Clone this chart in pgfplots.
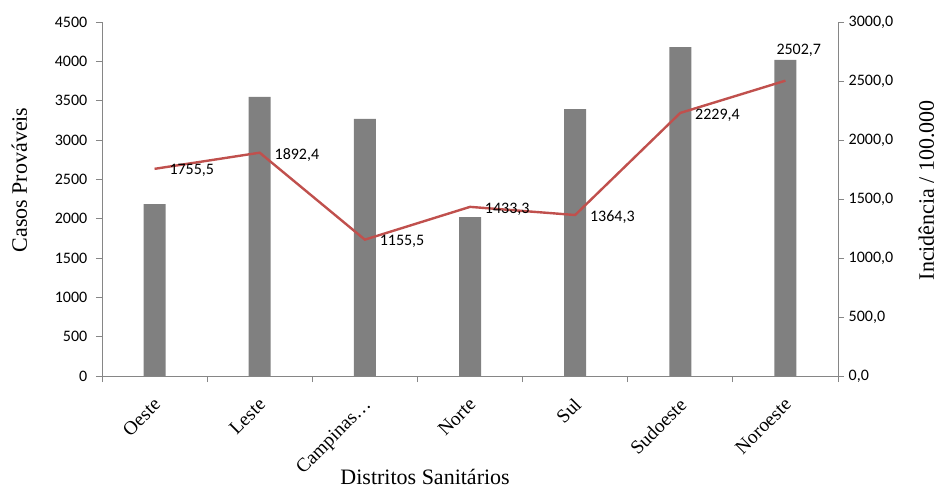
\documentclass[border=0pt]{standalone}
\usepackage{pgfplots}
\pgfplotsset{compat=1.18}
\usepackage{pgfplotstable}
\usepackage{fontspec}
\setmainfont{Liberation Serif}
\newfontfamily\calibri{Carlito}
\definecolor{bargray}{RGB}{128,128,128}
\definecolor{linered}{RGB}{192,80,77}
\definecolor{axgray}{RGB}{134,134,134}

% casos provaveis por distrito
\pgfplotstableread{
x casos
0 2186
1 3547
2 3267
3 2021
4 3394
5 4182
6 4017
}\casos

% incidencia / 100.000
\pgfplotstableread{
x inc lab
0 1755.5 1755,5
1 1892.4 1892,4
2 1155.5 1155,5
3 1433.3 1433,3
4 1364.3 1364,3
5 2229.4 2229,4
6 2502.7 2502,7
}\incid

\begin{document}
\begin{tikzpicture}
\pgfplotsset{
  every axis/.append style={
    scale only axis, width=552pt, height=265.5pt,
    xmin=-0.5, xmax=6.5,
    axis line style={axgray},
    tick style={axgray, line width=0.6pt},
    tick align=outside,
    major tick length=4.5pt,
    /pgf/number format/assume math mode=true,
    /pgf/number format/set thousands separator={},
    yticklabel style={font=\calibri\fontsize{12}{14}\selectfont},
    ylabel style={font=\fontsize{16.5}{19}\selectfont, anchor=center},
  },
  datalab/.style={draw=none, mark=none, point meta=explicit symbolic, nodes near coords,
    every node near coord/.append style={text=black, font=\calibri\fontsize{12}{14}\selectfont, inner sep=1pt}},
}
\begin{axis}[name=ax,
  axis x line*=bottom, axis y line*=left,
  ymin=0, ymax=4500, ytick={0,500,...,4500},
  yticklabel style={xshift=-3pt},
  xtick={0,...,6},
  xticklabels={Oeste,Leste,Campinas…,Norte,Sul,Sudoeste,Noroeste},
  major x tick style={draw=none},
  minor xtick={-0.5,0.5,...,6.5},
  minor tick length=4.5pt,
  xticklabel style={rotate=45, anchor=north east, font=\fontsize{14.5}{16}\selectfont, yshift=-3.2pt, xshift=-5.5pt},
  xlabel={Distritos Sanitários},
  xlabel style={font=\fontsize{16.5}{19}\selectfont, at={(axis description cs:0.439,0)}, anchor=base, yshift=-81.5pt},
  ylabel={Casos Prováveis},
  ylabel style={at={(axis description cs:-0.1123,0.554)}},
]
\addplot[ybar, bar width=16.5pt, fill=bargray, draw=none] table[x=x, y=casos] {\casos};
\end{axis}
\begin{axis}[
  axis x line=none, axis y line*=right,
  ymin=0, ymax=3000, ytick={0,500,...,3000},
  /pgf/number format/.cd, fixed, fixed zerofill, precision=1, use comma, set thousands separator={},
  /pgfplots/.cd,
  ylabel={Incidência / 100.000},
  ylabel style={at={(axis description cs:1.137,0.525)}, anchor=south},
]
\addplot[linered, line width=1.8pt, mark=none] table[x=x, y=inc] {\incid};
\addplot[datalab, restrict x to domain=0:5,
  every node near coord/.append style={anchor=west, xshift=10pt, yshift=-1.5pt}]
  table[x=x, y=inc, meta=lab] {\incid};
\addplot[datalab, restrict x to domain=6:6,
  every node near coord/.append style={anchor=center, xshift=10pt, yshift=22.5pt}]
  table[x=x, y=inc, meta=lab] {\incid};
\end{axis}
\path ([xshift=-76.5pt, yshift=-84pt]ax.south west) rectangle ([xshift=75.75pt, yshift=16.5pt]ax.north east);
\end{tikzpicture}
\end{document}
